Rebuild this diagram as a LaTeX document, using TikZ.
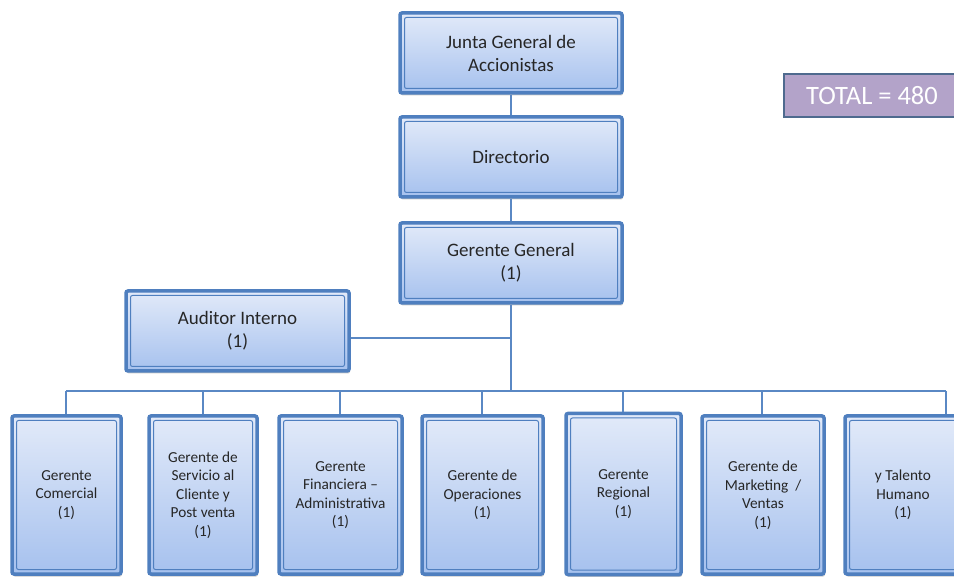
\documentclass[tikz,border=0pt]{standalone}
\usepackage{fontspec}
\setmainfont{Carlito}
\usetikzlibrary{shadows}
\definecolor{boxline}{HTML}{4F7FBF}
\definecolor{boxtop}{HTML}{E2EAF9}
\definecolor{boxbot}{HTML}{A6C1EE}
\definecolor{wire}{HTML}{5A88C4}
\definecolor{txt}{HTML}{262626}
\definecolor{totfill}{HTML}{B3A3C9}
\definecolor{totline}{HTML}{4E6A8E}
\tikzset{
  orgbox/.style={rectangle, rounded corners=2pt, draw=boxline, line width=3.5pt,
    top color=boxtop, bottom color=boxbot, align=center, text=txt,
    inner sep=0pt,
    drop shadow={shadow xshift=1pt, shadow yshift=-2.5pt, opacity=0.35, fill=black!60},
    path picture={\draw[boxline, line width=1pt]
      ([shift={(4.5pt,-4.5pt)}]path picture bounding box.north west) rectangle
      ([shift={(-4.5pt,4.5pt)}]path picture bounding box.south east);}},
  bigbox/.style={orgbox, minimum width=222pt, minimum height=80pt,
    font=\fontsize{19}{23}\selectfont},
  smallbox/.style={orgbox, minimum height=158pt,
    font=\fontsize{15.3}{18.5}\selectfont},
  wireline/.style={draw=wire, line width=1.6pt},
}
\begin{document}
\begin{tikzpicture}[x=1pt, y=-1pt]
\useasboundingbox (0,0) rectangle (954,577);
\clip (0,0) rectangle (954,577);

% top chain
\node[bigbox] (junta) at (511,53) {Junta General de\\Accionistas};
\node[bigbox] (dir) at (511,157) {Directorio};
\node[bigbox] (gg) at (511,263) {Gerente General\\(1)};
\node[bigbox, minimum width=223pt] (aud) at (237.5,331) {Auditor Interno\\(1)};

% total label
\node[rectangle, draw=totline, line width=1.5pt, fill=totfill, text=white,
  minimum width=176pt, minimum height=43pt, inner sep=0pt,
  font=\fontsize{26.5}{30}\selectfont] (total) at (872,95.5) {TOTAL = 480};

% second level
\node[smallbox, minimum width=109pt] (g1) at (66.5,495) {Gerente\\Comercial\\(1)};
\node[smallbox, minimum width=108pt] (g2) at (203,495) {Gerente de\\Servicio al\\Cliente y\\Post venta\\(1)};
\node[smallbox, minimum width=123pt] (g3) at (340.5,495) {Gerente\\Financiera --\\Administrativa\\(1)};
\node[smallbox, minimum width=121pt] (g4) at (482.5,495) {Gerente de\\Operaciones\\(1)};
\node[smallbox, minimum width=115pt, minimum height=161pt] (g5) at (623.5,494) {Gerente\\Regional\\(1)};
\node[smallbox, minimum width=122pt] (g6) at (763,495) {Gerente de\\Marketing~~/\\Ventas\\(1)};
\node[smallbox, minimum width=116pt] (g7) at (903,495) {y Talento\\Humano\\(1)};

% connectors
\coordinate (bus) at (511,391);
\coordinate (busL) at (66,391);
\coordinate (busR) at (946,391);
\coordinate (audtap) at (511,338);
\draw[wireline] (junta.south) -- (dir.north);
\draw[wireline] (dir.south) -- (gg.north);
\draw[wireline] (gg.south) -- (bus);
\draw[wireline] (aud.east |- audtap) -- (audtap);
\draw[wireline] (busL) -- (busR);
\foreach \n/\xx in {g1/66, g2/203, g3/340, g4/482, g5/623, g6/762, g7/946} {
  \coordinate (tap) at (\xx,391);
  \draw[wireline] (tap) -- (tap |- \n.north);
}
\end{tikzpicture}
\end{document}
